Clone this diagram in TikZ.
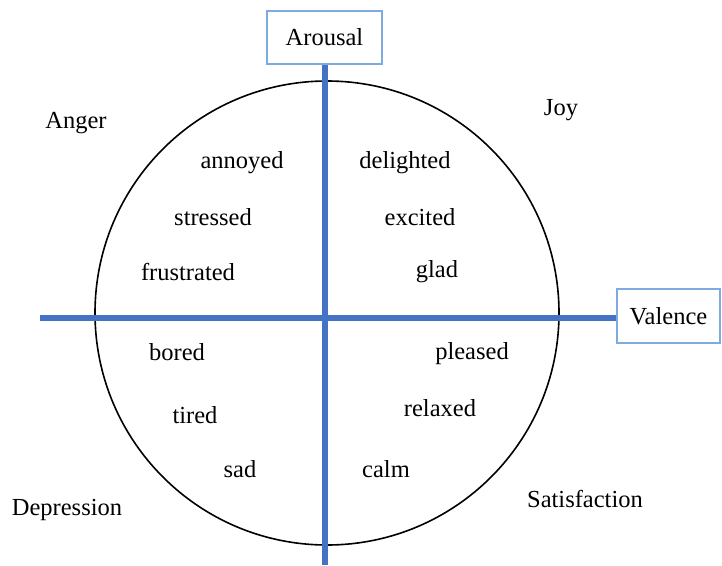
\documentclass[tikz,border=0pt]{standalone}
\usepackage{fontspec}
\setmainfont{Liberation Serif}
\definecolor{axisblue}{HTML}{4472C4}
\definecolor{boxblue}{HTML}{7FAADF}
\begin{document}
\begin{tikzpicture}[x=1pt,y=-1pt,
  every node/.style={font=\fontsize{24.5}{29}\selectfont},
  word/.style={inner sep=0pt},
  axisbox/.style={draw=boxblue, line width=1.5pt, fill=white, inner sep=0pt},
  axisline/.style={draw=axisblue, line width=6pt},
  rim/.style={circle, draw=black, line width=1.6pt, inner sep=0pt, minimum size=464pt}]
\useasboundingbox (0,0) rectangle (722,565);
% the circumplex circle
\node[rim] (rim) at (327,313) {};
% axis boxes
\node[axisbox, minimum width=115pt, minimum height=53pt] (arousal) at (324.5,37.5) {Arousal};
\node[axisbox, minimum width=103pt, minimum height=54pt] (valence) at (668.5,316) {Valence};
% axes
\coordinate (vend) at (326,565);
\coordinate (hend) at (40,318);
\draw[axisline] (arousal.south) -- (arousal.south |- vend);
\draw[axisline] (hend) -- (valence.west |- hend);
% quadrant names
\node[word] (anger) at (76,123) {Anger};
\node[word] (joy) at (561,110) {Joy};
\node[word] (depression) at (67,510) {Depression};
\node[word] (satisfaction) at (585,499) {Satisfaction};
% emotion words
\node[word] (annoyed) at (242,163) {annoyed};
\node[word] (delighted) at (405,163) {delighted};
\node[word] (stressed) at (213,217) {stressed};
\node[word] (excited) at (420,217) {excited};
\node[word] (frustrated) at (188,272) {frustrated};
\node[word] (glad) at (437,272) {glad};
\node[word] (bored) at (177,352) {bored};
\node[word] (pleased) at (472,354) {pleased};
\node[word] (tired) at (195,415) {tired};
\node[word] (relaxed) at (440,408) {relaxed};
\node[word] (sad) at (240,469) {sad};
\node[word] (calm) at (386,469) {calm};
\end{tikzpicture}
\end{document}
